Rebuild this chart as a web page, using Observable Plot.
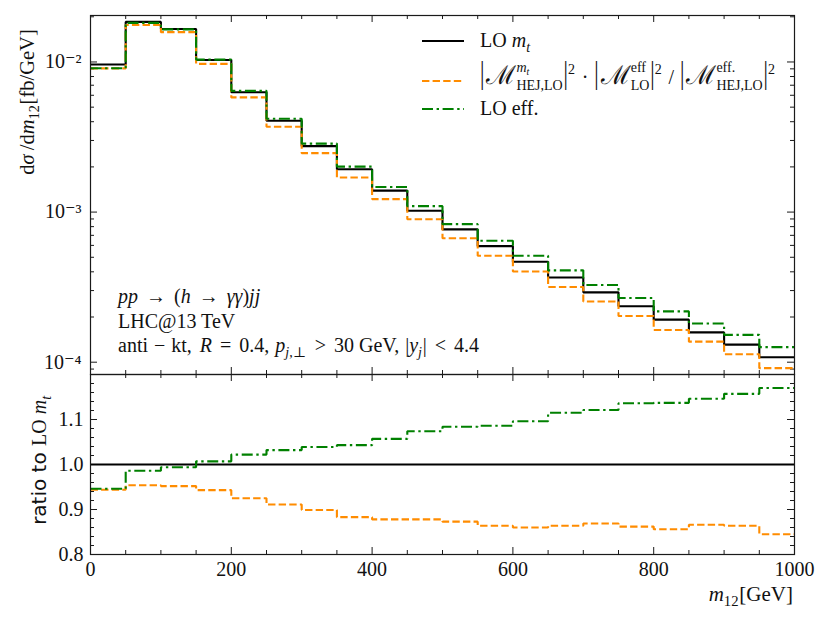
<!DOCTYPE html>
<html><head><meta charset="utf-8">
<script src="https://cdn.jsdelivr.net/npm/d3@7"></script>
<script src="https://cdn.jsdelivr.net/npm/@observablehq/plot@0.6"></script>
<style>
body{margin:0;background:#fff;}
#wrap{position:relative;width:830px;height:623px;background:#fff;}
#wrap svg{position:absolute;left:0;}
</style></head><body><div id="wrap"></div>
<script>
// ---- data ----
const binEdges = [0,50,100,150,200,250,300,350,400,450,500,550,600,650,700,750,800,850,900,950,1000];
const loMt   = [0.00961,0.01849,0.0166,0.0103,0.00628,0.00406,0.00275,0.00193,0.00139,0.00102,0.000767,0.000593,0.000467,0.000367,0.000292,0.000236,0.000192,0.000158,0.000131,0.000108];
const hejRew = [0.00907,0.01764,0.0158,0.00971,0.00581,0.0037,0.00247,0.0017,0.00122,0.000896,0.00067,0.000512,0.000402,0.000317,0.000254,0.000203,0.000164,0.000137,0.000113,0.0000913];
const loEff  = [0.00909,0.01823,0.0165,0.01037,0.00642,0.00419,0.00286,0.00201,0.00147,0.001095,0.000831,0.000644,0.000512,0.000409,0.000327,0.000268,0.000218,0.000181,0.000152,0.000126];
const ratioHej = [0.944,0.954,0.952,0.943,0.925,0.911,0.899,0.883,0.878,0.878,0.873,0.864,0.860,0.864,0.869,0.862,0.856,0.866,0.864,0.845];
const ratioEff = [0.946,0.986,0.994,1.007,1.022,1.032,1.039,1.043,1.057,1.074,1.084,1.086,1.096,1.115,1.121,1.136,1.137,1.146,1.157,1.170];
const xMajor = [0,200,400,600,800,1000];
const xMinor = [50,100,150,250,300,350,450,500,550,650,700,750,850,900,950];
const yTopMajor = [1e-4,1e-3,1e-2];
const yTopLabels = ["10⁻⁴","10⁻³","10⁻²"];
const yTopMinor = [9e-5,2e-4,3e-4,4e-4,5e-4,6e-4,7e-4,8e-4,9e-4,2e-3,3e-3,4e-3,5e-3,6e-3,7e-3,8e-3,9e-3,2e-2];
const yRatioMajor = [0.8,0.9,1.0,1.1];
const yRatioMinor = [0.82,0.84,0.86,0.88,0.92,0.94,0.96,0.98,1.02,1.04,1.06,1.08,1.12,1.14,1.16,1.18];
const colors = {lo: "#000000", hej: "#ff8c00", eff: "#008000"};

const SERIF = "'Liberation Serif', 'DejaVu Serif', serif";
const SANS = "'DejaVu Sans', sans-serif";
const DASH_HEJ = "7.4,3.2";
const DASH_EFF = "11,3.6,2.4,3.6";
const LW = 2.1;

const steps = vals => binEdges.map((e, i) => ({x: e, y: vals[Math.min(i, vals.length - 1)]}));

function frameTicks(innerH, innerW, yMaj, yMin) {
  const c = "#1a1a1a";
  return [
    Plot.tickX(xMajor, {x: d => d, insetTop: innerH - 7, stroke: c}),
    Plot.tickX(xMajor, {x: d => d, insetBottom: innerH - 7, stroke: c}),
    Plot.tickX(xMinor, {x: d => d, insetTop: innerH - 4, stroke: c}),
    Plot.tickX(xMinor, {x: d => d, insetBottom: innerH - 4, stroke: c}),
    Plot.tickY(yMaj, {y: d => d, insetRight: innerW - 7, stroke: c}),
    Plot.tickY(yMaj, {y: d => d, insetLeft: innerW - 7, stroke: c}),
    Plot.tickY(yMin, {y: d => d, insetRight: innerW - 4, stroke: c}),
    Plot.tickY(yMin, {y: d => d, insetLeft: innerW - 4, stroke: c})
  ];
}
const stepLine = (vals, stroke, dash) => Plot.line(steps(vals), {
  x: "x", y: "y", curve: "step-after", stroke, strokeWidth: LW,
  strokeDasharray: dash, strokeLinecap: "butt", strokeLinejoin: "miter"
});

const W = 830, ML = 90, MR = 36;
const innerW = W - ML - MR;

const topPlot = Plot.plot({
  width: W, height: 380, marginLeft: ML, marginRight: MR, marginTop: 15, marginBottom: 6,
  style: {fontFamily: SERIF, fontSize: "20px", background: "transparent", overflow: "visible", color: "#111"},
  x: {domain: [0, 1000], axis: null},
  y: {type: "log", domain: [8.28e-5, 0.0204], axis: null},
  marks: [
    ...frameTicks(359, innerW, yTopMajor, yTopMinor),
    Plot.axisY(yTopMajor, {tickSize: 0, tickPadding: 9, label: null, fontSize: 20,
      tickFormat: d => yTopLabels[yTopMajor.indexOf(d)]}),
    stepLine(loMt, colors.lo, null),
    stepLine(hejRew, colors.hej, DASH_HEJ),
    stepLine(loEff, colors.eff, DASH_EFF),
    Plot.frame({stroke: "#1a1a1a", strokeWidth: 1.2})
  ]
});

const botPlot = Plot.plot({
  width: W, height: 255, marginLeft: ML, marginRight: MR, marginTop: 6, marginBottom: 69,
  style: {fontFamily: SERIF, fontSize: "20px", background: "transparent", overflow: "visible", color: "#111"},
  x: {domain: [0, 1000], axis: null},
  y: {domain: [0.8, 1.2], axis: null},
  marks: [
    ...frameTicks(180, innerW, yRatioMajor, yRatioMinor),
    Plot.axisX(xMajor, {tickSize: 0, tickPadding: 7, label: null, fontSize: 20, tickFormat: d => String(d)}),
    Plot.axisY(yRatioMajor, {tickSize: 0, tickPadding: 7, label: null, fontSize: 20, tickFormat: d => d.toFixed(1)}),
    Plot.ruleY([1], {stroke: colors.lo, strokeWidth: LW}),
    stepLine(ratioHej, colors.hej, DASH_HEJ),
    stepLine(ratioEff, colors.eff, DASH_EFF),
    Plot.frame({stroke: "#1a1a1a", strokeWidth: 1.2})
  ]
});

const wrap = document.getElementById("wrap");
topPlot.style.top = "0px";
botPlot.style.top = "368px";
wrap.appendChild(topPlot);
wrap.appendChild(botPlot);

// ---- rich text helper (math-like labels) ----
function rich(parent, tokens, size) {
  const g = parent.append("g").attr("font-family", SERIF).attr("fill", "#111")
    .attr("text-anchor", "start").attr("font-size", size);
  function run(toks, x, y, s) {
    for (const tk of toks) {
      const o = typeof tk === "string" ? {t: tk} : tk;
      if (o.sp !== undefined) { x += o.sp * s; continue; }
      if (o.t !== undefined) {
        const yy = y + (o.dy || 0) * s;
        const el = g.append("text").attr("text-anchor", "start")
          .attr("font-size", s * (o.s || 1)).style("white-space", "pre").text(o.t);
        if (o.sy) el.attr("x", 0).attr("y", 0).attr("transform", `translate(${x},${yy}) scale(1,${o.sy})`);
        else el.attr("x", x).attr("y", yy);
        if (o.i) el.attr("font-style", "italic");
        if (o.f) el.attr("font-family", o.f);
        x += el.node().getComputedTextLength() + (o.k || 0) * s;
      } else {
        const x0 = x; let w = 0;
        if (o.sup) w = Math.max(w, run(o.sup, x0 + (o.sx || 0) * s, y - s * (o.up ?? 0.42), s * 0.7) - x0);
        if (o.sub) w = Math.max(w, run(o.sub, x0, y + s * (o.dn ?? 0.24), s * 0.7) - x0);
        x = x0 + w + s * 0.04;
      }
    }
    return x;
  }
  const w = run(tokens, 0, 0, size);
  return {g, w};
}

const topSel = d3.select(topPlot);
const botSel = d3.select(botPlot);

// y label (top panel)
{
  const r = rich(topSel, [{t: "d"}, {t: "σ", i: true}, {sp: 0.2}, "/d", {t: "m", i: true}, {sub: ["12"]}, "[fb/GeV]"], 20.5);
  r.g.attr("transform", `translate(34,102) rotate(-90) translate(${-r.w / 2},0)`);
}
// ratio label
{
  const r = rich(botSel, [{t: "ratio to ", f: SANS}, "LO ", {t: "m", i: true}, {sub: [{t: "t", i: true}]}], 20);
  r.g.attr("transform", `translate(46,${460 - 368}) rotate(-90) translate(${-r.w / 2},0)`);
}
// x label
{
  const r = rich(botSel, [{t: "m", i: true}, {sub: ["12"]}, "[GeV]"], 21);
  r.g.attr("transform", `translate(${793 - r.w},${601 - 368})`);
}
// annotation block
{
  const rel = 0.4;
  const rows = [
    [{t: "pp", i: true}, {sp: 0.15}, " → ", {sp: 0.15}, "(", {t: "h", i: true}, {sp: 0.15}, " → ", {sp: 0.15}, {t: "γγ", i: true}, ")", {t: "jj", i: true}],
    ["LHC@13 TeV"],
    ["anti", {sp: 0.3}, "−", {sp: 0.3}, "kt,", {sp: 0.4}, {t: "R", i: true}, {sp: rel}, "=", {sp: rel}, "0.4,", {sp: 0.3},
     {t: "p", i: true}, {sub: [{t: "j", i: true}, ",⊥"]}, {sp: rel}, ">", {sp: rel}, "30 GeV,", {sp: 0.3},
     "|", {t: "y", i: true}, {sub: [{t: "j", i: true}]}, "|", {sp: rel}, "<", {sp: rel}, "4.4"]
  ];
  const ys = [303, 328, 352];
  rows.forEach((row, k) => {
    const r = rich(topSel, row, 20);
    r.g.attr("transform", `translate(118,${ys[k]})`);
  });
}
// legend
{
  const bar = {t: "|", s: 1.1, sy: 1.45, dy: -0.05};
  const MM = {t: "ℳ", s: 1.3};
  const sq = {sup: ["2"], up: 0.5};
  const legendRows = [
    {y: 41, tb: 47, stroke: colors.lo, dash: null, tokens: ["LO ", {t: "m", i: true}, {sub: [{t: "t", i: true}]}]},
    {y: 81, tb: 84, stroke: colors.hej, dash: DASH_HEJ, tokens: [
      bar, {sp: 0.1}, MM, {sup: [{t: "m", i: true}, {sub: [{t: "t", i: true}]}], sub: ["HEJ,LO"], up: 0.62, dn: 0.3}, bar, sq,
      {sp: 0.3}, "·", {sp: 0.3}, bar, {sp: 0.1}, MM, {sup: ["eff"], sub: ["LO"], up: 0.62, dn: 0.3}, bar, sq,
      {sp: 0.3}, "/", {sp: 0.3}, bar, {sp: 0.1}, MM, {sup: ["eff."], sub: ["HEJ,LO"], up: 0.62, dn: 0.3}, bar, sq]},
    {y: 109, tb: 115, stroke: colors.eff, dash: DASH_EFF, tokens: ["LO eff."]}
  ];
  for (const row of legendRows) {
    topSel.append("line").attr("x1", 422).attr("x2", 464).attr("y1", row.y).attr("y2", row.y)
      .attr("stroke", row.stroke).attr("stroke-width", LW).attr("stroke-dasharray", row.dash);
    const r = rich(topSel, row.tokens, 20);
    r.g.attr("transform", `translate(480,${row.tb})`);
  }
}
</script>
</body></html>
